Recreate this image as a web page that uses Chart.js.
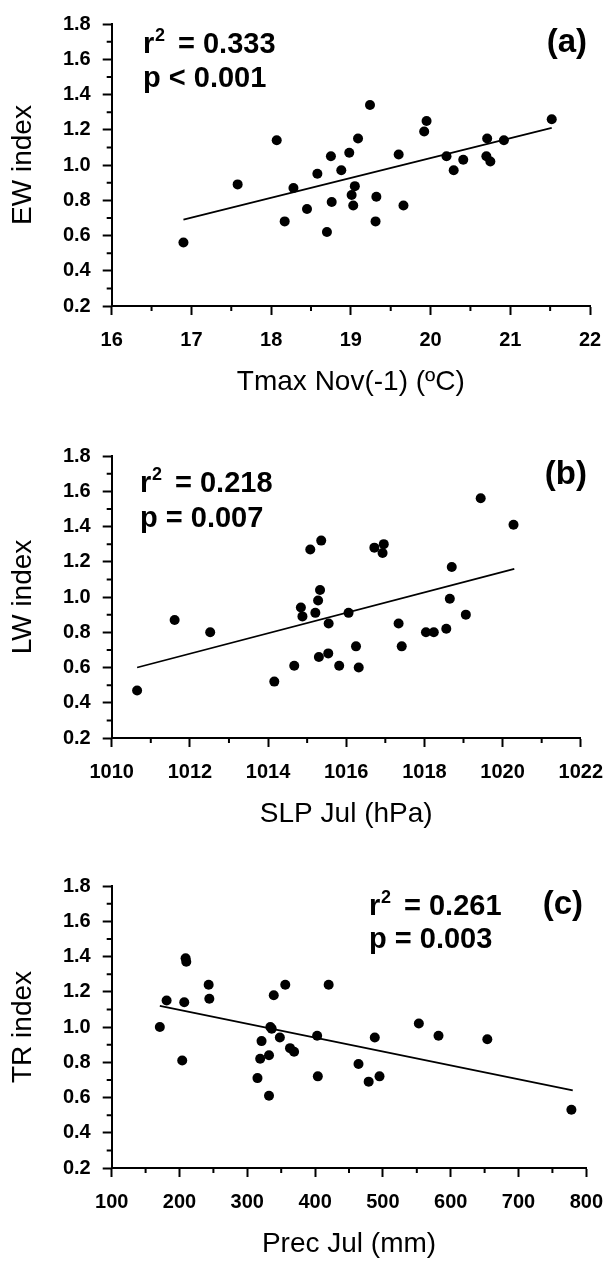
<!DOCTYPE html>
<html>
<head>
<meta charset="utf-8">
<script src="https://cdn.jsdelivr.net/npm/chart.js@4.4.1/dist/chart.umd.min.js"></script>
<style>
    html, body { margin: 0; padding: 0; background: #fff; overflow: hidden; }
    .panel { position: absolute; left: 0; width: 616px; height: 399px; }
</style>
</head>
<body>
<div class="panel" style="top:0px"><canvas id="chartA" width="616" height="399"></canvas></div>
<div class="panel" style="top:432px"><canvas id="chartB" width="616" height="399"></canvas></div>
<div class="panel" style="top:862px"><canvas id="chartC" width="616" height="399"></canvas></div>
<script>
// (a) EW index vs Tmax Nov(-1)
const ewTmax = [16.90, 17.58, 18.07, 18.17, 18.28, 18.45, 18.58, 18.70, 18.75, 18.76, 18.88, 18.98, 19.01, 19.03, 19.05, 19.09,
    19.24, 19.32, 19.31, 19.60, 19.66, 19.92, 19.95, 20.20, 20.29, 20.41, 20.71, 20.70, 20.75, 20.92, 21.52];
const ewIndex = [0.56, 0.89, 1.14, 0.68, 0.87, 0.75, 0.95, 0.62, 1.05, 0.79, 0.97, 1.07, 0.83, 0.77, 0.88, 1.15,
    1.34, 0.82, 0.68, 1.06, 0.77, 1.19, 1.25, 1.05, 0.97, 1.03, 1.15, 1.05, 1.02, 1.14, 1.26];
const ewFitX = [16.9, 21.52];
const ewFitY = [0.69, 1.21];

// (b) LW index vs SLP Jul
const lwSlp = [1010.65, 1011.61, 1012.52, 1014.16, 1014.67, 1014.84, 1014.88, 1015.08, 1015.21, 1015.28, 1015.33, 1015.36,
    1015.30, 1015.54, 1015.55, 1015.82, 1016.06, 1016.25, 1016.32, 1016.72, 1016.96, 1016.93, 1017.34, 1017.42,
    1018.04, 1018.24, 1018.56, 1018.65, 1018.70, 1019.06, 1019.44, 1020.28];
const lwIndex = [0.47, 0.87, 0.80, 0.52, 0.61, 0.94, 0.89, 1.27, 0.91, 0.98, 1.04, 1.32,
    0.66, 0.68, 0.85, 0.61, 0.91, 0.72, 0.60, 1.28, 1.30, 1.25, 0.85, 0.72,
    0.80, 0.80, 0.82, 0.99, 1.17, 0.90, 1.56, 1.41];
const lwFitX = [1010.65, 1020.3];
const lwFitY = [0.60, 1.16];

// (c) TR index vs Prec Jul
const trPrec = [171, 181, 204, 207, 209, 210, 243, 244, 315, 319, 321, 332, 332, 334, 336, 339, 348, 356, 363, 369,
    403, 404, 420, 464, 479, 488, 495, 553, 582, 654, 778];
const trIndex = [1.00, 1.15, 0.81, 1.14, 1.39, 1.37, 1.24, 1.16, 0.71, 0.82, 0.92, 0.84, 0.61, 1.00, 0.99, 1.18, 0.94, 1.24, 0.88, 0.86,
    0.95, 0.72, 1.24, 0.79, 0.69, 0.94, 0.72, 1.02, 0.95, 0.93, 0.53];
const trFitX = [171, 780];
const trFitY = [1.12, 0.64];

const FONT = "Arial, 'Liberation Sans', sans-serif";

// minor ticks + r2/p text + panel letter
const panelExtras = {
    id: 'panelExtras',
    afterDraw(chart, args, o) {
        const ctx = chart.ctx;
        const xs = chart.scales.x, ys = chart.scales.y;
        ctx.save();
        ctx.strokeStyle = '#000';
        ctx.lineWidth = 2;
        ctx.beginPath();
        for (let v = xs.min + o.xMinor; v < xs.max; v += o.xMinor * 2) {
            const px = xs.getPixelForValue(v);
            ctx.moveTo(px, ys.bottom);
            ctx.lineTo(px, ys.bottom + 5);
        }
        for (let v = 0.3; v < 1.8; v += 0.2) {
            const py = ys.getPixelForValue(v);
            ctx.moveTo(xs.left - 5, py);
            ctx.lineTo(xs.left, py);
        }
        ctx.stroke();

        ctx.fillStyle = '#000';
        ctx.textAlign = 'left';
        ctx.textBaseline = 'alphabetic';
        ctx.font = 'bold 29px ' + FONT;
        ctx.fillText('r', o.x, o.y1);
        ctx.font = 'bold 18px ' + FONT;
        ctx.fillText('2', o.x + 12, o.y1 - 12);
        ctx.font = 'bold 29px ' + FONT;
        ctx.fillText('= ' + o.r, o.x + 35, o.y1);
        ctx.fillText('p ' + o.op + ' ' + o.p, o.x, o.y2);

        ctx.font = 'bold 33px ' + FONT;
        ctx.textAlign = 'right';
        ctx.textBaseline = 'middle';
        ctx.fillText(o.tag, o.tagX, o.tagY);
        ctx.restore();
    }
};

function makePanel(id, xs, ys, fitX, fitY, xr, xTitle, yTitle, extras) {
    const points = xs.map((x, i) => ({ x: x, y: ys[i] }));
    const fit = fitX.map((x, i) => ({ x: x, y: fitY[i] }));
    return new Chart(document.getElementById(id), {
        type: 'scatter',
        data: {
            datasets: [{
                data: points,
                backgroundColor: '#000',
                borderColor: '#000',
                borderWidth: 0,
                pointRadius: 5,
                pointHoverRadius: 5
            }, {
                data: fit,
                showLine: true,
                borderColor: '#000',
                borderWidth: 1.8,
                pointRadius: 0,
                fill: false
            }]
        },
        options: {
            responsive: false,
            animation: false,
            events: [],
            layout: { padding: { top: 19, right: 26, left: 0, bottom: 0 } },
            plugins: {
                legend: { display: false },
                tooltip: { enabled: false },
                panelExtras: extras
            },
            scales: {
                x: {
                    type: 'linear',
                    min: xr.min,
                    max: xr.max,
                    border: { color: '#000', width: 2 },
                    grid: { drawOnChartArea: false, tickLength: 9, tickWidth: 2, tickColor: '#000' },
                    ticks: {
                        stepSize: xr.step,
                        color: '#000',
                        padding: 13,
                        maxRotation: 0,
                        font: { family: FONT, size: 20, weight: 'bold' },
                        callback: v => String(v)
                    },
                    title: {
                        display: true,
                        text: xTitle,
                        color: '#000',
                        font: { family: FONT, size: 28 },
                        padding: { top: 0, bottom: 0 }
                    },
                    afterFit: s => { s.height = 93; }
                },
                y: {
                    type: 'linear',
                    min: 0.2,
                    max: 1.8,
                    border: { color: '#000', width: 2 },
                    grid: { drawOnChartArea: false, tickLength: 9, tickWidth: 2, tickColor: '#000' },
                    ticks: {
                        stepSize: 0.2,
                        color: '#000',
                        padding: 12,
                        font: { family: FONT, size: 20, weight: 'bold' },
                        callback: v => v.toFixed(1)
                    },
                    title: {
                        display: true,
                        text: yTitle,
                        color: '#000',
                        font: { family: FONT, size: 28 },
                        padding: { top: 6, bottom: 0 }
                    },
                    afterFit: s => { s.width = 111.7; }
                }
            }
        },
        plugins: [panelExtras]
    });
}

makePanel('chartA', ewTmax, ewIndex, ewFitX, ewFitY, { min: 16, max: 22, step: 1 },
    'Tmax Nov(-1) (\u00BAC)', 'EW index',
    { xMinor: 0.5, r: '0.333', op: '<', p: '0.001', x: 143, y1: 53, y2: 87, tag: '(a)', tagX: 587, tagY: 43 });

makePanel('chartB', lwSlp, lwIndex, lwFitX, lwFitY, { min: 1010, max: 1022, step: 2 },
    'SLP Jul (hPa)', 'LW index',
    { xMinor: 1, r: '0.218', op: '=', p: '0.007', x: 140, y1: 60, y2: 95, tag: '(b)', tagX: 587, tagY: 43 });

makePanel('chartC', trPrec, trIndex, trFitX, trFitY, { min: 100, max: 800, step: 100 },
    'Prec Jul (mm)', 'TR index',
    { xMinor: 50, r: '0.261', op: '=', p: '0.003', x: 369, y1: 53, y2: 86, tag: '(c)', tagX: 583, tagY: 43 });
</script>
</body>
</html>
